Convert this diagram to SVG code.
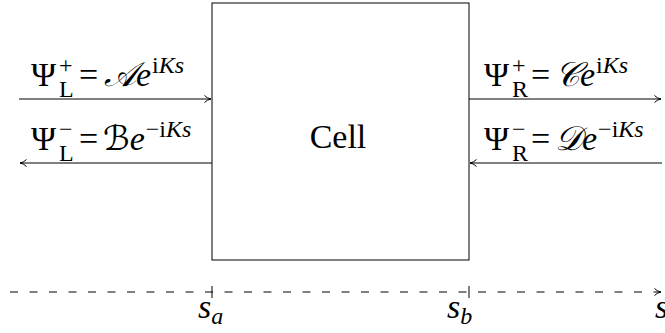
<svg xmlns="http://www.w3.org/2000/svg" width="665" height="333" viewBox="0 0 665 333">
<style>
.ln{stroke:#000;stroke-width:1;fill:none}
.m{font-family:"Liberation Serif","DejaVu Serif",serif;font-size:34px;fill:#000}
.s{font-size:24px}
.i{font-style:italic}
.c{font-family:"DejaVu Sans","Noto Sans","Liberation Serif",serif;font-style:italic}
</style>
<defs>
<marker id="ah" markerWidth="10" markerHeight="10" refX="8" refY="5" orient="auto" markerUnits="userSpaceOnUse">
<path d="M1.5,1.5 Q4,4.2 8,5 Q4,5.8 1.5,8.5" fill="none" stroke="#000" stroke-width="1"/>
</marker>
</defs>
<g id="cell">
<rect x="212" y="3" width="257" height="257" class="ln"/>
<text class="m" x="338" y="148" text-anchor="middle">Cell</text>
</g>
<g id="connectors">
<line class="ln" x1="19" y1="99" x2="211" y2="99" marker-end="url(#ah)"/>
<line class="ln" x1="212" y1="163" x2="20" y2="163" marker-end="url(#ah)"/>
<line class="ln" x1="469" y1="99" x2="661" y2="99" marker-end="url(#ah)"/>
<line class="ln" x1="662" y1="163" x2="470" y2="163" marker-end="url(#ah)"/>
</g>
<g id="labels">
<text class="m" y="86"><tspan x="31">Ψ</tspan><tspan class="s" x="59" y="73">+</tspan><tspan class="s" x="59" y="97">L</tspan><tspan x="79" y="86">=</tspan><tspan class="c" x="104">𝒜</tspan><tspan class="i">e</tspan><tspan class="s" y="73" dx="1">i</tspan><tspan class="s i">Ks</tspan></text>
<text class="m" y="150"><tspan x="31">Ψ</tspan><tspan class="s" x="59" y="137">−</tspan><tspan class="s" x="59" y="161">L</tspan><tspan x="79" y="150">=</tspan><tspan class="c" x="103">ℬ</tspan><tspan class="i">e</tspan><tspan class="s" y="137" dx="1">−i</tspan><tspan class="s i">Ks</tspan></text>
<text class="m" y="86"><tspan x="484">Ψ</tspan><tspan class="s" x="512" y="73">+</tspan><tspan class="s" x="512" y="97">R</tspan><tspan x="531" y="86">=</tspan><tspan class="c" x="555">𝒞</tspan><tspan class="i">e</tspan><tspan class="s" y="73" dx="1">i</tspan><tspan class="s i">Ks</tspan></text>
<text class="m" y="150"><tspan x="484">Ψ</tspan><tspan class="s" x="512" y="137">−</tspan><tspan class="s" x="512" y="161">R</tspan><tspan x="531" y="150">=</tspan><tspan class="c" x="555">𝒟</tspan><tspan class="i">e</tspan><tspan class="s" y="137" dx="1">−i</tspan><tspan class="s i">Ks</tspan></text>
</g>
<g id="axis">
<line class="ln" x1="10" y1="292" x2="661" y2="292" stroke-dasharray="8,11.5" marker-end="url(#ah)"/>
<line class="ln" x1="212" y1="286" x2="212" y2="298"/>
<line class="ln" x1="469" y1="286" x2="469" y2="298"/>
<text class="m i" y="318"><tspan x="198">s</tspan><tspan class="s" y="324">a</tspan></text>
<text class="m i" y="318"><tspan x="447">s</tspan><tspan class="s" y="324">b</tspan></text>
<text class="m i" x="655" y="318">s</text>
</g>
</svg>
